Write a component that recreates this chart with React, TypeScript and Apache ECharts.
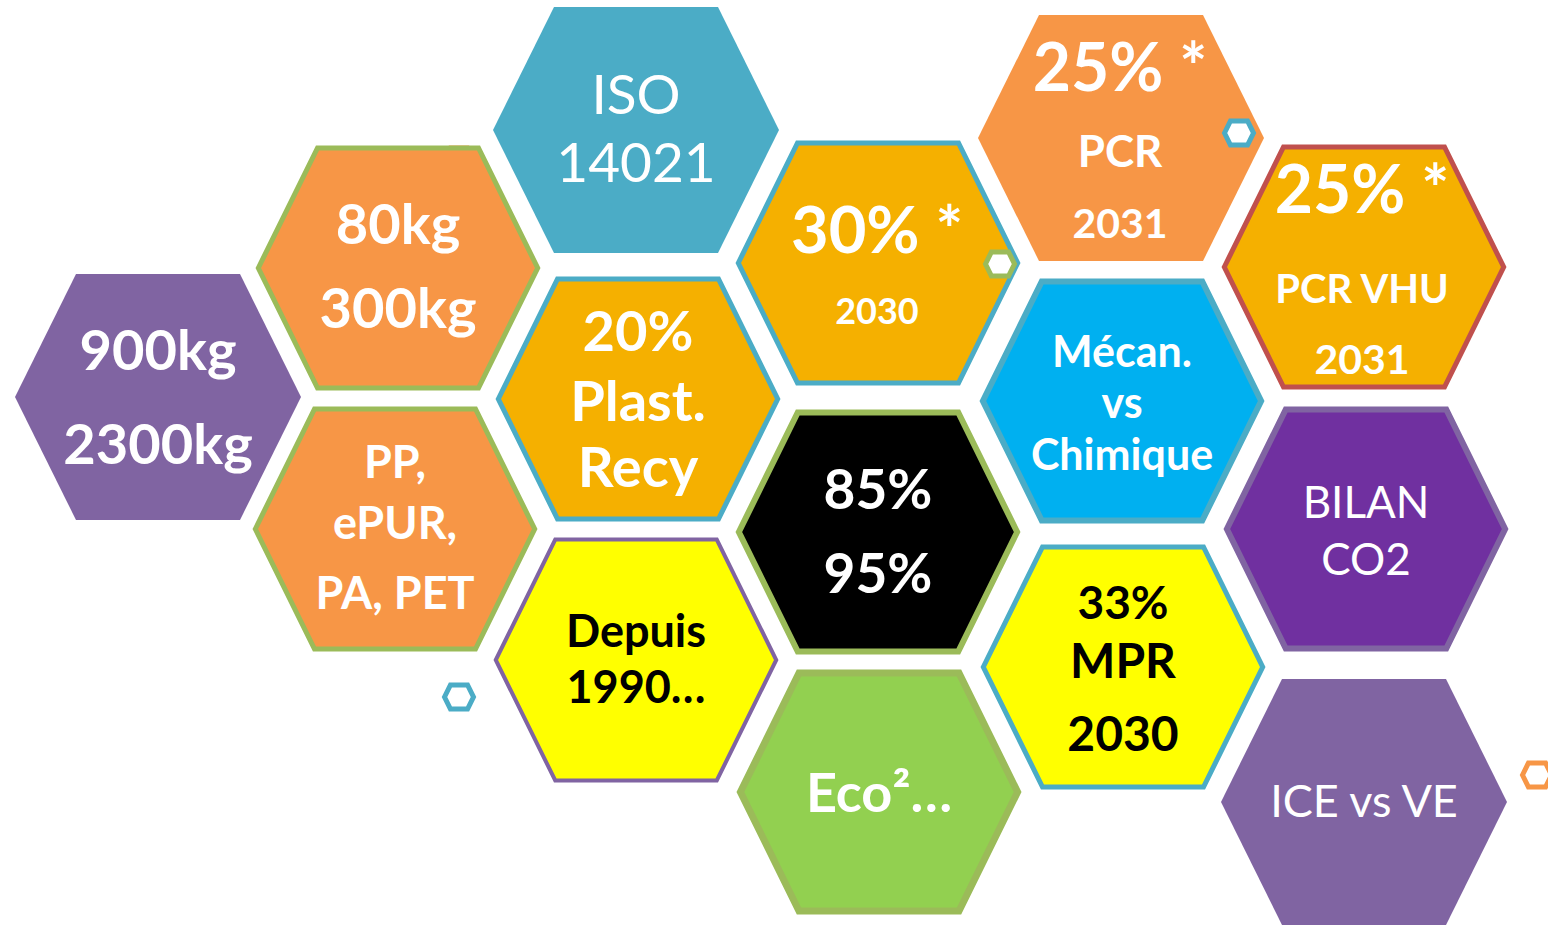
import React, { useEffect, useRef } from "react";
import * as echarts from "echarts";

// ---- data ----
const hexX = [158, 398, 636, 395, 638, 636, 878, 878, 879, 1121, 1122, 1123, 1364, 1366, 1364];
const hexY = [397, 268, 130, 529, 399, 660, 263, 532, 792, 138, 401, 667, 267, 529, 802];
const hexLabels: string[][] = [
  ["900kg", "2300kg"],
  ["80kg", "300kg"],
  ["ISO", "14021"],
  ["PP,", "ePUR,", "PA, PET"],
  ["20%", "Plast.", "Recy"],
  ["Depuis", "1990…"],
  ["30% *", "2030"],
  ["85%", "95%"],
  ["Eco²…"],
  ["25% *", "PCR", "2031"],
  ["Mécan.", "vs", "Chimique"],
  ["33%", "MPR", "2030"],
  ["25% *", "PCR VHU", "2031"],
  ["BILAN", "CO2"],
  ["ICE vs VE"],
];
const smallBackX = [459];
const smallBackY = [160];
const smallFrontX = [1239, 1000, 459, 1537];
const smallFrontY = [133, 264, 697, 775];

// ---- styles ----
const HEX_HW = 143; // half width (left/right points)
const HEX_HH = 123; // half height
const HEX_TW = 82; // half length of top edge
const SMALL_SCALE = 17 / 143;
const FONT = "Lato, 'Open Sans', sans-serif";
const fills = ["#8064A2", "#F79646", "#4BACC6", "#F79646", "#F5B000", "#FFFF00", "#F5B000", "#000000", "#92D050", "#F79646", "#00B0F0", "#FFFF00", "#F5B000", "#7030A0", "#8064A2"];
const strokes = ["", "#9BBB59", "", "#9BBB59", "#4BACC6", "#8064A2", "#4BACC6", "#9BBB59", "#9BBB59", "", "#4BACC6", "#4BACC6", "#C0504D", "#8064A2", ""];
const strokeWidths = [0, 5, 0, 5, 5, 4, 5, 6, 7, 0, 6, 5, 5, 6, 0];
const textColors = ["#fff", "#fff", "#fff", "#fff", "#fff", "#000", "#fff", "#fff", "#fff", "#fff", "#fff", "#000", "#fff", "#fff", "#fff"];
const boldFlags = [1, 1, 0, 1, 1, 1, 1, 1, 1, 1, 1, 1, 1, 0, 0];
const lineSizes: number[][] = [
  [56, 56], [56, 56], [55, 55], [45, 45, 45], [56, 56, 56], [45, 45], [65, 36], [55, 55], [54],
  [66, 44, 41], [43, 43, 43], [46, 48, 48], [66, 40, 41], [44, 44], [45],
];
const lineDy: number[][] = [
  [-49, 45], [-46, 38], [-37, 31], [-68, -7, 63], [-70, 0, 66], [-30, 26], [-35, 47], [-44, 40], [-1],
  [-73, 12, 84], [-51, 0, 52], [-66, -8, 65], [-80, 21, 91], [-28, 29], [-2],
];
const textDx = [0, 0, 0, 0, 0, 0, -1, 0, 0, -1, 0, 0, -2, 0, 0];
const smallBackColors = ["#F79646"];
const smallFrontColors = ["#4BACC6", "#9BBB59", "#4BACC6", "#F79646"];

function hexPoints(cx: number, cy: number, hw: number, hh: number, tw: number) {
  return [
    [cx - hw, cy],
    [cx - tw, cy - hh],
    [cx + tw, cy - hh],
    [cx + hw, cy],
    [cx + tw, cy + hh],
    [cx - tw, cy + hh],
  ];
}

function smallRender(colors: string[]) {
  return (params: any, api: any) => {
    const i = params.dataIndex;
    const c = api.coord([api.value(0), api.value(1)]);
    const s = api.size([HEX_HW * SMALL_SCALE, HEX_HH * SMALL_SCALE]);
    const tw = api.size([HEX_TW * SMALL_SCALE, 0])[0];
    return {
      type: "polygon",
      shape: { points: hexPoints(c[0], c[1], s[0] - 2.5, s[1] - 2.5, tw - 1.2) },
      style: { fill: "#ffffff", stroke: colors[i], lineWidth: 5 },
    };
  };
}

export default function App() {
  const ref = useRef<HTMLDivElement>(null);
  useEffect(() => {
    if (!ref.current) return;
    const chart = echarts.init(ref.current, undefined, { renderer: "svg" });
    const mainData = hexX.map((x, i) => [x, hexY[i]]);
    chart.setOption({
      animation: false,
      backgroundColor: "#ffffff",
      grid: { left: 0, right: 0, top: 0, bottom: 0 },
      xAxis: { type: "value", min: 0, max: 1548, show: false },
      yAxis: { type: "value", min: 0, max: 926, inverse: true, show: false },
      series: [
        {
          type: "custom",
          silent: true,
          z: 1,
          clip: true,
          data: smallBackX.map((x, i) => [x, smallBackY[i]]),
          renderItem: smallRender(smallBackColors),
        },
        {
          type: "custom",
          silent: true,
          z: 2,
          clip: true,
          data: mainData,
          renderItem: (params: any, api: any) => {
            const i = params.dataIndex;
            const c = api.coord([api.value(0), api.value(1)]);
            const s = api.size([HEX_HW, HEX_HH]);
            const tw = api.size([HEX_TW, 0])[0];
            const lw = strokeWidths[i];
            const inset = lw ? lw / 2 + 0.5 : 0;
            const poly = {
              type: "polygon",
              shape: { points: hexPoints(c[0], c[1], s[0] - inset * 1.1, s[1] - inset, tw - inset * 0.5) },
              style: { fill: fills[i], stroke: lw ? strokes[i] : "none", lineWidth: lw },
            };
            const texts = hexLabels[i].map((t, j) => ({
              type: "text",
              x: c[0] + textDx[i],
              y: c[1] + lineDy[i][j],
              style: {
                text: t,
                fill: textColors[i],
                fontSize: lineSizes[i][j],
                fontWeight: boldFlags[i] ? "bold" : "normal",
                fontFamily: FONT,
                align: "center",
                verticalAlign: "middle",
              },
            }));
            return { type: "group", children: [poly, ...texts] };
          },
        },
        {
          type: "custom",
          silent: true,
          z: 3,
          clip: true,
          data: smallFrontX.map((x, i) => [x, smallFrontY[i]]),
          renderItem: smallRender(smallFrontColors),
        },
      ],
    });
    return () => chart.dispose();
  }, []);
  return (
    <div
      ref={ref}
      style={{ position: "fixed", left: 0, top: 0, width: 1548, height: 926 }}
    />
  );
}
